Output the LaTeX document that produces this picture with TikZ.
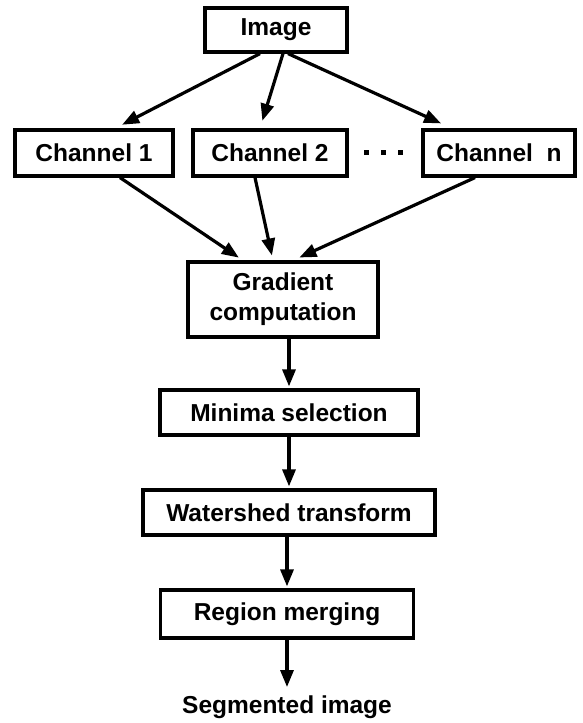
\documentclass[tikz,border=0pt]{standalone}
\usepackage{fontspec}
\setmainfont{Liberation Sans}
\usetikzlibrary{arrows.meta,calc}
\begin{document}
\begin{tikzpicture}[x=1pt,y=-1pt,
  box/.style={draw=black,line width=3.2pt,minimum height=45pt,inner sep=0pt,
    font=\fontsize{24.5}{30}\selectfont\bfseries},
  arr/.style={line width=3.2pt,-{Triangle[length=17pt,width=13pt]}},
  lbl/.style={font=\fontsize{24.5}{30}\selectfont\bfseries,inner sep=0pt}]
\useasboundingbox (0,0) rectangle (583,723);
\node[box,minimum width=142pt,minimum height=44pt] (img) at (276,30) {Image};
\node[box,minimum width=158pt,minimum height=46pt] (ch1) at (94,153) {Channel 1};
\node[box,minimum width=154pt,minimum height=46pt] (ch2) at (270,153) {Channel 2};
\node[box,minimum width=152pt,minimum height=46pt] (chn) at (499,153) {Channel\ \ n};
\node[inner sep=0pt] (dots) at (383,152) {\rule{5pt}{5pt}\hspace{12pt}\rule{5pt}{5pt}\hspace{12pt}\rule{5pt}{5pt}};
\node[box,minimum width=190pt,minimum height=75pt,align=center] (grad) at (283,299.5) {Gradient\\computation};
\node[box,minimum width=258pt] (mins) at (289,412.5) {Minima selection};
\node[box,minimum width=292pt] (wat) at (289,512.5) {Watershed transform};
\node[box,minimum width=253pt,minimum height=48pt] (reg) at (287,614) {Region merging};
\node[lbl,anchor=base] (seg) at (287,713) {Segmented image};
% image to channels
\draw[arr,shorten >=8pt] ([xshift=-16pt]img.south) -- ([xshift=21pt]ch1.north);
\draw[arr,shorten >=8pt] ([xshift=7pt]img.south) -- ([xshift=-10pt]ch2.north);
\draw[arr,shorten >=12pt] ([xshift=12pt]img.south) -- ([xshift=-47pt]chn.north);
% channels to gradient
\draw[arr,shorten >=5pt] ([xshift=26pt]ch1.south) -- ([xshift=-40pt]grad.north);
\draw[arr,shorten >=5pt] ([xshift=-15pt]ch2.south) -- ([xshift=-10pt]grad.north);
\draw[arr,shorten >=7pt] ([xshift=-24pt]chn.south) -- ([xshift=10pt]grad.north);
% vertical chain
\draw[arr,shorten >=2pt] (mins.north |- grad.south) -- (mins.north);
\draw[arr,shorten >=2pt] (mins.south -| wat.north) -- (wat.north);
\draw[arr,shorten >=2pt] (wat.south -| reg.north) -- (reg.north);
\draw[arr,shorten >=8pt] (reg.south) -- (seg.north);
\end{tikzpicture}
\end{document}
